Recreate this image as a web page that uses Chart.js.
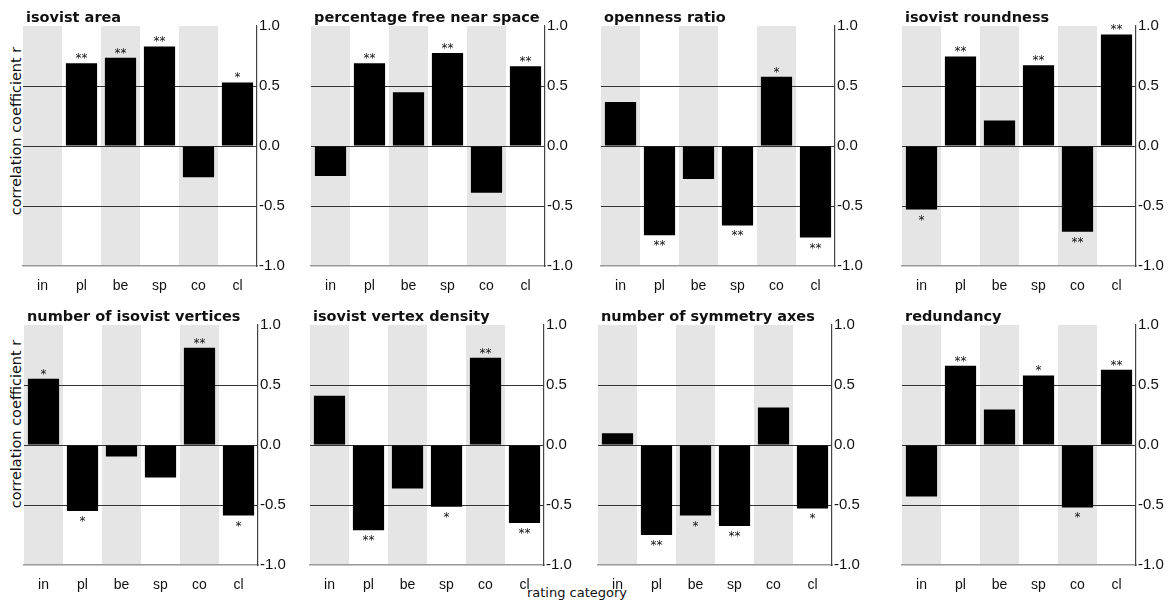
<!DOCTYPE html>
<html>
<head>
<meta charset="utf-8">
<script src="https://cdn.jsdelivr.net/npm/chart.js@4/dist/chart.umd.min.js"></script>
<style>
  body { margin: 0; background: #fff; width: 1170px; height: 605px; position: relative; overflow: hidden; font-family: "DejaVu Sans", sans-serif; color: #111; }
  .panel { position: absolute; }
  .ylab { position: absolute; transform: translate(-50%, -50%) rotate(-90deg); white-space: nowrap; font-size: 14.5px; }
  .xlab { position: absolute; transform: translate(-50%, -50%); white-space: nowrap; font-size: 13px; }
</style>
</head>
<body>
<div class="ylab" style="left:16px; top:131px;">correlation coefficient r</div>
<div class="ylab" style="left:16px; top:424px;">correlation coefficient r</div>
<div class="xlab" style="left:577px; top:592px;">rating category</div>

<script>
/* ---- data ---- */
const categories = ["in", "pl", "be", "sp", "co", "cl"];
const yTicks = [-1.0, -0.5, 0.0, 0.5, 1.0];

const titles = [
  "isovist area", "percentage free near space", "openness ratio", "isovist roundness",
  "number of isovist vertices", "isovist vertex density", "number of symmetry axes", "redundancy"
];

const isovistArea      = [0.00,  0.69,  0.735,  0.83, -0.26,  0.53];
const freeNearSpace    = [-0.25, 0.69,  0.447,  0.774, -0.39, 0.665];
const opennessRatio    = [0.366, -0.743, -0.274, -0.662, 0.578, -0.763];
const isovistRoundness = [-0.53, 0.746, 0.212,  0.673, -0.715, 0.93];
const isovistVertices  = [0.552, -0.549, -0.095, -0.27, 0.81, -0.588];
const vertexDensity    = [0.41,  -0.71, -0.362, -0.515, 0.727, -0.649];
const symmetryAxes     = [0.097, -0.749, -0.588, -0.674, 0.312, -0.529];
const redundancy       = [-0.429, 0.66, 0.295,  0.58, -0.52,  0.627];

const starsArea        = ["", "**", "**", "**", "", "*"];
const starsFree        = ["", "**", "", "**", "", "**"];
const starsOpenness    = ["", "**", "", "**", "*", "**"];
const starsRoundness   = ["*", "**", "", "**", "**", "**"];
const starsVertices    = ["*", "*", "", "", "**", "*"];
const starsDensity     = ["", "**", "", "*", "**", "**"];
const starsSymmetry    = ["", "**", "*", "**", "", "*"];
const starsRedundancy  = ["", "**", "", "*", "*", "**"];

const seriesList = [isovistArea, freeNearSpace, opennessRatio, isovistRoundness,
                    isovistVertices, vertexDensity, symmetryAxes, redundancy];
const starsList = [starsArea, starsFree, starsOpenness, starsRoundness,
                   starsVertices, starsDensity, starsSymmetry, starsRedundancy];

/* ---- layout ---- */
const plotLefts = [23, 311, 601, 902, 24, 310, 598, 902];
const plotTops  = [26, 26, 26, 26, 325, 325, 325, 325];
const plotW = 234, plotH = 240;
const padL = 5, padT = 30, axisW = 32, axisH = 30;

// gray bands, stars and panel title
const panelDecor = {
  id: "panelDecor",
  beforeDraw(chart, args, opts) {
    const { ctx, chartArea: a, scales: { x } } = chart;
    const w = a.width / categories.length;
    ctx.save();
    ctx.fillStyle = "#e5e5e5";
    categories.forEach((c, i) => {
      if (i % 2) return;
      const cx = x.getPixelForValue(i);
      ctx.fillRect(cx - w / 2, a.top, w, a.height);
    });
    ctx.restore();
  },
  afterDatasetsDraw(chart, args, opts) {
    const { ctx, chartArea: a } = chart;
    const vals = chart.data.datasets[0].data;
    ctx.save();
    ctx.fillStyle = "#111";
    ctx.font = '12px "DejaVu Sans"';
    ctx.textAlign = "center";
    ctx.textBaseline = "alphabetic";
    chart.getDatasetMeta(0).data.forEach((bar, i) => {
      const s = opts.stars[i];
      if (!s) return;
      const y = vals[i] >= 0 ? bar.y - 1 : bar.y + 14;
      ctx.fillText(s, bar.x, y);
    });
    ctx.font = 'bold 14.5px "DejaVu Sans"';
    ctx.textAlign = "left";
    ctx.fillText(opts.title, a.left + 3, a.top - 4);
    ctx.restore();
  }
};

seriesList.forEach((vals, p) => {
  const cv = document.createElement("canvas");
  cv.className = "panel";
  cv.width = padL + plotW + axisW;
  cv.height = padT + plotH + axisH;
  cv.style.left = (plotLefts[p] - padL) + "px";
  cv.style.top = (plotTops[p] - padT) + "px";
  document.body.appendChild(cv);

  new Chart(cv, {
    type: "bar",
    data: {
      labels: categories,
      datasets: [{
        data: vals,
        backgroundColor: "#000",
        borderColor: "#000",
        borderWidth: 0,
        barPercentage: 0.8,
        categoryPercentage: 1.0,
      }]
    },
    options: {
      responsive: false,
      animation: false,
      layout: { padding: { left: padL, top: padT, right: 0, bottom: 0 } },
      plugins: {
        legend: { display: false },
        tooltip: { enabled: false },
        panelDecor: { title: titles[p], stars: starsList[p] }
      },
      scales: {
        x: {
          grid: { display: false },
          border: { display: true, color: "#999", width: 1.5 },
          ticks: { color: "#111", padding: 4, font: { family: "Liberation Sans", size: 14 } },
          afterFit: s => { s.height = axisH; }
        },
        y: {
          position: "right",
          min: yTicks[0],
          max: yTicks[yTicks.length - 1],
          afterBuildTicks: s => { s.ticks = yTicks.map(v => ({ value: v })); },
          grid: {
            drawTicks: false,
            color: c => (c.tick && Math.abs(c.tick.value) < 0.9) ? "#333" : "rgba(0,0,0,0)",
            lineWidth: 1
          },
          border: { display: true, color: "#444", width: 1.2 },
          ticks: {
            color: "#111",
            padding: 2,
            font: { family: "Liberation Sans", size: 15 },
            callback: v => v.toFixed(1)
          },
          afterFit: s => { s.width = axisW; }
        }
      }
    },
    plugins: [panelDecor]
  });
});
</script>
</body>
</html>
